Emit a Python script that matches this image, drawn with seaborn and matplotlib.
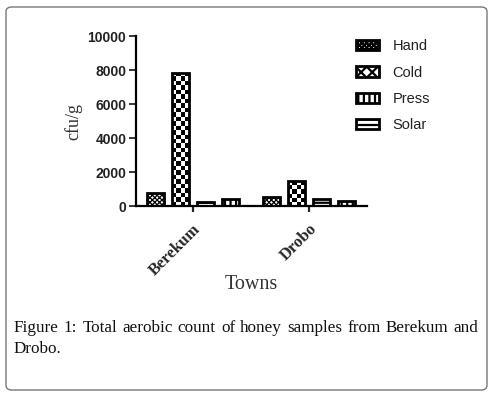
import matplotlib
matplotlib.use("Agg")
import matplotlib.pyplot as plt
from matplotlib.patches import FancyBboxPatch, Patch
import numpy as np
import pandas as pd
import seaborn as sns

# data
towns = ["Berekum", "Drobo"]
bar_methods = ["Hand", "Cold", "Solar", "Press"]   # order the bars appear in
legend_methods = ["Hand", "Cold", "Press", "Solar"]
hand = [750, 550]
cold = [7850, 1450]
solar = [250, 400]
press = [400, 280]

hatches = {"Hand": "xxxxxxx", "Cold": "xxx", "Press": "|||", "Solar": "---"}
hatch_lw = {"Hand": 0.9, "Cold": 1.6, "Press": 1.6, "Solar": 1.6}

caption_line1 = "Figure 1: Total aerobic count of honey samples from Berekum and"
caption_line2 = "Drobo."

df = pd.DataFrame({
    "Towns": towns * 4,
    "method": [m for m in bar_methods for _ in towns],
    "cfu": hand + cold + solar + press,
})

sns.set_style("white")
plt.rcParams["font.family"] = ["Liberation Sans", "DejaVu Sans"]
plt.rcParams["hatch.linewidth"] = 1.6

fig = plt.figure(figsize=(4.95, 3.94), dpi=100)
ax = fig.add_axes([136 / 495, 1 - 206 / 394, (367 - 136) / 495, (206 - 36) / 394])

sns.barplot(data=df, x="Towns", y="cfu", hue="method", hue_order=bar_methods,
            palette=["white"] * 4, edgecolor="black", linewidth=2,
            width=0.86, gap=0.3, legend=False, saturation=1, ax=ax)


def style_patch(p, m):
    p.set_hatch(hatches[m])
    if hasattr(p, "set_hatch_linewidth"):
        p.set_hatch_linewidth(hatch_lw[m])


ax.set_xlim(-0.49, 1.5)
ax.set_ylim(0, 10000)

# checkerboard fill for the Cold bars, other bars hatched
cell_px = 4.4
for cont, m in zip(ax.containers, bar_methods):
    for bar in cont:
        if m != "Cold":
            style_patch(bar, m)
            continue
        x0, y0 = bar.get_x(), bar.get_y()
        w, h = bar.get_width(), bar.get_height()
        p0 = ax.transData.transform((x0, y0))
        p1 = ax.transData.transform((x0 + w, y0 + h))
        nx = max(1, int(round((p1[0] - p0[0]) / cell_px)))
        ny = max(1, int(round((p1[1] - p0[1]) / cell_px)))
        board = (np.indices((ny, nx)).sum(axis=0) % 2).astype(float)
        im = ax.imshow(board, cmap="gray", vmin=0, vmax=1, aspect="auto",
                       interpolation="nearest", origin="lower",
                       extent=(x0, x0 + w, y0, y0 + h), zorder=bar.get_zorder() + 0.1)
        im.set_clip_path(bar)
        bar.set_facecolor("none")
        bar.set_zorder(bar.get_zorder() + 0.2)

ax.set_xlim(-0.49, 1.5)
ax.set_ylim(0, 10000)
ax.set_yticks([0, 2000, 4000, 6000, 8000, 10000])
ax.set_yticklabels(["0", "2000", "4000", "6000", "8000", "10000"],
                   fontsize=10, fontweight="bold", color="#222222")
ax.set_xticks([0, 1])
ax.set_xticklabels(towns, rotation=45, ha="right", rotation_mode="anchor",
                   family="Liberation Serif", fontweight="bold", fontsize=12)
sns.despine(ax=ax)
for s in ["left", "bottom"]:
    ax.spines[s].set_linewidth(1.6)
    ax.spines[s].set_color("black")
ax.tick_params(axis="y", direction="out", length=5, width=1.3, pad=2, left=True)
ax.tick_params(axis="x", direction="out", length=4, width=1.6, pad=7, bottom=True)

ax.set_xlabel("Towns", family="Liberation Serif", fontsize=14.5, color="#333333",
              labelpad=-3)
ax.set_ylabel("cfu/g", family="Liberation Serif", fontsize=13, color="#333333",
              labelpad=4)

handles = []
for m in legend_methods:
    h = Patch(facecolor="white", edgecolor="black", linewidth=2)
    style_patch(h, m)
    handles.append(h)
fig.legend(handles, legend_methods, loc="upper left",
           bbox_to_anchor=(343 / 495, 1 - 26 / 394), frameon=False,
           fontsize=10.5, handlelength=1.6, handleheight=0.7,
           labelspacing=0.85, handletextpad=0.9, labelcolor="#222222")

# caption, first line justified between the frame margins
renderer = fig.canvas.get_renderer()
left_px, right_px = 14, 478
y1 = 1 - 328 / 394
texts = []
widths = []
for w in caption_line1.split():
    t = fig.text(0, y1, w, family="Liberation Serif", fontsize=12.3,
                 va="center", ha="left", color="#111111")
    texts.append(t)
    widths.append(t.get_window_extent(renderer).width)
space = (right_px - left_px - sum(widths)) / (len(texts) - 1)
x = left_px
for t, wd in zip(texts, widths):
    t.set_x(x / 495)
    x += wd + space
fig.text(left_px / 495, 1 - 349 / 394, caption_line2, family="Liberation Serif",
         fontsize=12.3, va="center", ha="left", color="#111111")

# rounded frame around the figure
frame = FancyBboxPatch((6 / 495, 4 / 394), (487 - 6) / 495, (387 - 4) / 394,
                       boxstyle="round,pad=0,rounding_size=0.012",
                       transform=fig.transFigure, facecolor="none",
                       edgecolor="#777777", linewidth=1)
fig.patches.append(frame)

fig.savefig("out.png", dpi=100)
